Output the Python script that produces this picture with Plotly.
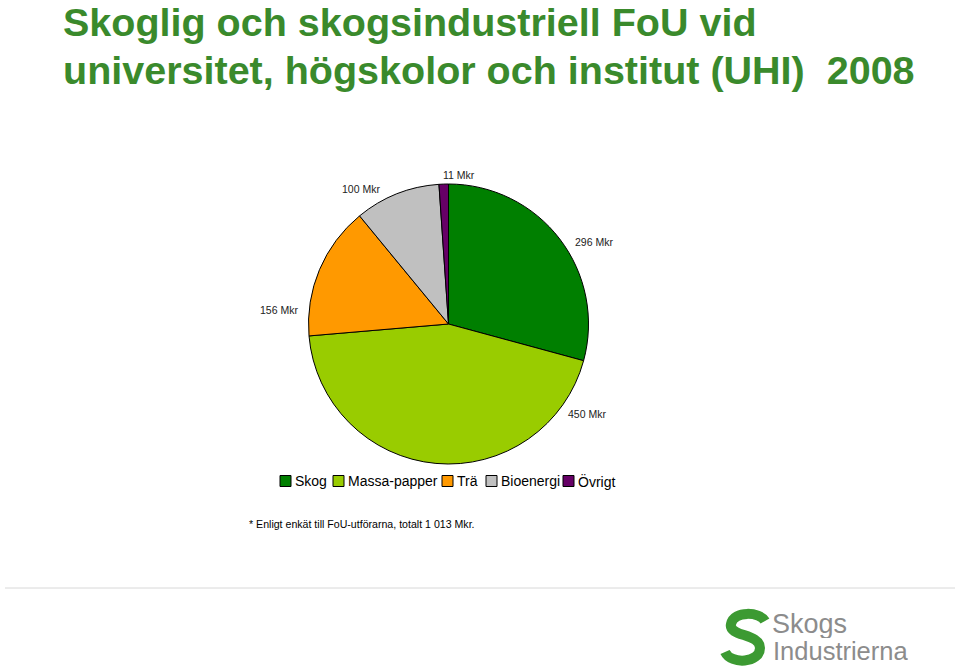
import plotly.graph_objects as go

W, H = 960, 666

categories = ["Skog", "Massa-papper", "Trä", "Bioenergi", "Övrigt"]
values = [296, 450, 156, 100, 11]
colors = ["#007F00", "#99CC00", "#FF9900", "#C0C0C0", "#660066"]

# layout constants (pixel positions)
label_px = [(594, 242), (587, 414), (279, 310), (361, 189), (459, 175)]
legend_x = [280, 333, 442, 486, 563]
legend_y = 481

title_lines = ["Skoglig och skogsindustriell FoU vid",
               "universitet, högskolor och institut (UHI)  2008"]
footnote = "* Enligt enkät till FoU-utförarna, totalt 1 013 Mkr."

def px(x, y):
    return x / W, 1 - y / H

cx, cy, r = 448.5, 324, 140
fig = go.Figure(go.Pie(
    labels=categories, values=values, sort=False, direction="clockwise",
    rotation=0, textinfo="none", hoverinfo="label+value", showlegend=False,
    marker=dict(colors=colors, line=dict(color="#000000", width=1)),
    domain=dict(x=[(cx - r) / W, (cx + r) / W], y=[1 - (cy + r) / H, 1 - (cy - r) / H]),
))

ann = []
shapes = []
for v, (x, y) in zip(values, label_px):
    xx, yy = px(x, y)
    ann.append(dict(x=xx, y=yy, xref="paper", yref="paper", text=f"{v} Mkr",
                    xanchor="center", yanchor="middle",
                    showarrow=False, font=dict(family="Liberation Sans, Arial", size=10.5, color="#222")))

# legend (manual, compact like the reference)
for name, col, x in zip(categories, colors, legend_x):
    shapes.append(dict(type="rect", xref="paper", yref="paper",
                       x0=x / W, x1=(x + 11) / W, y0=1 - (legend_y + 5.5) / H, y1=1 - (legend_y - 5.5) / H,
                       fillcolor=col, line=dict(color="#000", width=1)))
    xx, yy = px(x + 13, legend_y)
    ann.append(dict(x=xx, y=yy, xref="paper", yref="paper", text=name, showarrow=False,
                    xanchor="left", yanchor="middle",
                    font=dict(family="Liberation Sans, Arial", size=14, color="#000")))

tfont = dict(family="Liberation Sans, Arial", size=39.5, color="#3A8A2C")
for i, t in enumerate(title_lines):
    xx, yy = px(61, 22 + 48 * i)
    ann.append(dict(x=xx, y=yy, xref="paper", yref="paper", text=f"<b>{t}</b>", showarrow=False,
                    xanchor="left", yanchor="middle", height=44,
                    font=tfont))

xx, yy = px(247, 524)
ann.append(dict(x=xx, y=yy, xref="paper", yref="paper", text=footnote, showarrow=False,
                xanchor="left", yanchor="middle", font=dict(family="Liberation Sans, Arial", size=10.6, color="#000")))

# logo: S-shaped stroke drawn as a path
s_pts = [(765, 621),
         (760, 612), (734, 610), (731, 624),
         (728, 637), (760, 633), (760, 648),
         (760, 663), (731, 665), (725, 652)]
def pp(p):
    x, y = px(*p)
    return f"{x:.5f},{y:.5f}"
path = "M " + pp(s_pts[0])
for k in range(1, len(s_pts), 3):
    path += " C " + " ".join(pp(q) for q in s_pts[k:k + 3])
shapes.append(dict(type="path", xref="paper", yref="paper", path=path,
                   line=dict(color="#3C9A32", width=10)))

xx, yy = px(770, 624)
ann.append(dict(x=xx, y=yy, xref="paper", yref="paper", text="Skogs", showarrow=False,
                xanchor="left", yanchor="middle", height=28,
                font=dict(family="Liberation Sans, Arial", size=27, color="#8C8C8C")))
xx, yy = px(771, 651)
ann.append(dict(x=xx, y=yy, xref="paper", yref="paper", text="Industrierna", showarrow=False,
                xanchor="left", yanchor="middle", height=26,
                font=dict(family="Liberation Sans, Arial", size=25.5, color="#8C8C8C")))

shapes.append(dict(type="line", xref="paper", yref="paper", x0=5 / W, x1=955 / W,
                   y0=1 - 588 / H, y1=1 - 588 / H, line=dict(color="#D8D8D8", width=1)))

fig.update_layout(
    width=W, height=H, margin=dict(l=0, r=0, t=0, b=0),
    paper_bgcolor="white", plot_bgcolor="white",
    showlegend=False,
    annotations=ann,
    shapes=shapes,
)

fig.write_html("out.html")
